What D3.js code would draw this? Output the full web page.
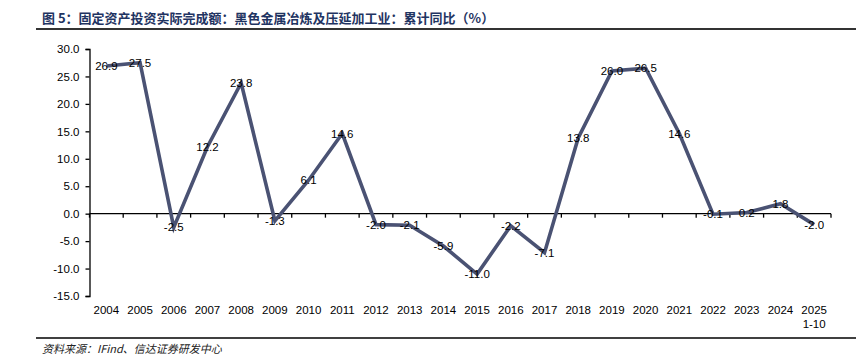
<!DOCTYPE html>
<html><head><meta charset="utf-8">
<script src="https://cdn.jsdelivr.net/npm/d3@7/dist/d3.min.js"></script>
<style>body{margin:0;background:#fff;} svg{display:block;}</style>
</head><body>
<svg id="c" width="862" height="355"></svg>
<script>
const categories = ["2004","2005","2006","2007","2008","2009","2010","2011","2012","2013","2014","2015","2016","2017","2018","2019","2020","2021","2022","2023","2024","2025\n1-10"];
const values = [26.9,27.5,-2.5,12.2,23.8,-1.3,6.1,14.6,-2.0,-2.1,-5.9,-11.0,-2.2,-7.1,13.8,26.0,26.5,14.6,-0.1,0.2,1.8,-2.0];
const yTicks = [30,25,20,15,10,5,0,-5,-10,-15];
const titleText = "图 5：固定资产投资实际完成额：黑色金属冶炼及压延加工业：累计同比（%）";
const sourceText = "资料来源：IFind、信达证券研发中心";

const fmt = v => v.toFixed(1);

const svg = d3.select("#c");
const L = 89.5, R = 831, T = 49, B = 296;
const x = d3.scaleBand().domain(categories).range([L, R]).padding(0);
const y = d3.scaleLinear().domain([-15, 30]).range([B, T]);

// title
svg.append("text").attr("x", 42).attr("y", 23)
  .attr("font-family", "'Noto Sans CJK SC'").attr("font-weight", "bold")
  .attr("font-size", 13).attr("fill", "#1f3462").text(titleText);
svg.append("line").attr("x1", 36).attr("x2", 856).attr("y1", 29).attr("y2", 29)
  .attr("stroke", "#333").attr("stroke-width", 2);

// y axis
const yAxis = d3.axisLeft(y).tickValues(yTicks).tickFormat(fmt).tickSize(4).tickPadding(6);
const gy = svg.append("g").attr("transform", `translate(${L},0)`).call(yAxis);
gy.select(".domain").attr("stroke", "#000").attr("stroke-width", 1.3);
gy.selectAll(".tick line").attr("stroke", "#000").attr("stroke-width", 1.3);
gy.selectAll("text").attr("font-family", "'Liberation Sans', Arial").attr("font-size", 11.5).attr("fill", "#000");

// zero line with ticks at band boundaries
const y0 = y(0);
svg.append("line").attr("x1", L).attr("x2", R).attr("y1", y0).attr("y2", y0)
  .attr("stroke", "#000").attr("stroke-width", 1.3);
const bounds = categories.map(c => x(c)).concat([R]);
svg.append("g").selectAll("line").data(bounds).join("line")
  .attr("x1", d => d).attr("x2", d => d).attr("y1", y0).attr("y2", y0 + 4)
  .attr("stroke", "#000").attr("stroke-width", 1.3);

// x labels
const xl = svg.append("g").selectAll("text").data(categories).join("text")
  .attr("x", d => x(d) + x.bandwidth() / 2).attr("y", 314)
  .attr("text-anchor", "middle")
  .attr("font-family", "'Liberation Sans', Arial").attr("font-size", 11.5).attr("fill", "#000");
xl.each(function(d){
  const parts = d.split("\n");
  const t = d3.select(this);
  parts.forEach((p, i) => t.append("tspan").attr("x", x(d) + x.bandwidth()/2).attr("dy", i === 0 ? 0 : 13.5).text(p));
});

// line
const pts = categories.map((c, i) => [x(c) + x.bandwidth() / 2, y(values[i])]);
svg.append("path").datum(pts).attr("d", d3.line())
  .attr("fill", "none").attr("stroke", "#4a5273").attr("stroke-width", 3.6)
  .attr("stroke-linejoin", "miter");

// data labels
svg.append("g").selectAll("text").data(pts).join("text")
  .attr("x", d => d[0]).attr("y", d => d[1]).attr("dy", "0.35em")
  .attr("text-anchor", "middle")
  .attr("font-family", "'Liberation Sans', Arial").attr("font-size", 11.5).attr("fill", "#000")
  .text((d, i) => fmt(values[i]));

// source
svg.append("line").attr("x1", 36).attr("x2", 856).attr("y1", 338).attr("y2", 338)
  .attr("stroke", "#000").attr("stroke-width", 1.3);
svg.append("text").attr("x", 42).attr("y", 353)
  .attr("font-family", "'Noto Sans CJK SC'").attr("font-style", "italic")
  .attr("font-size", 11).attr("fill", "#222").text(sourceText);
</script>
</body></html>
